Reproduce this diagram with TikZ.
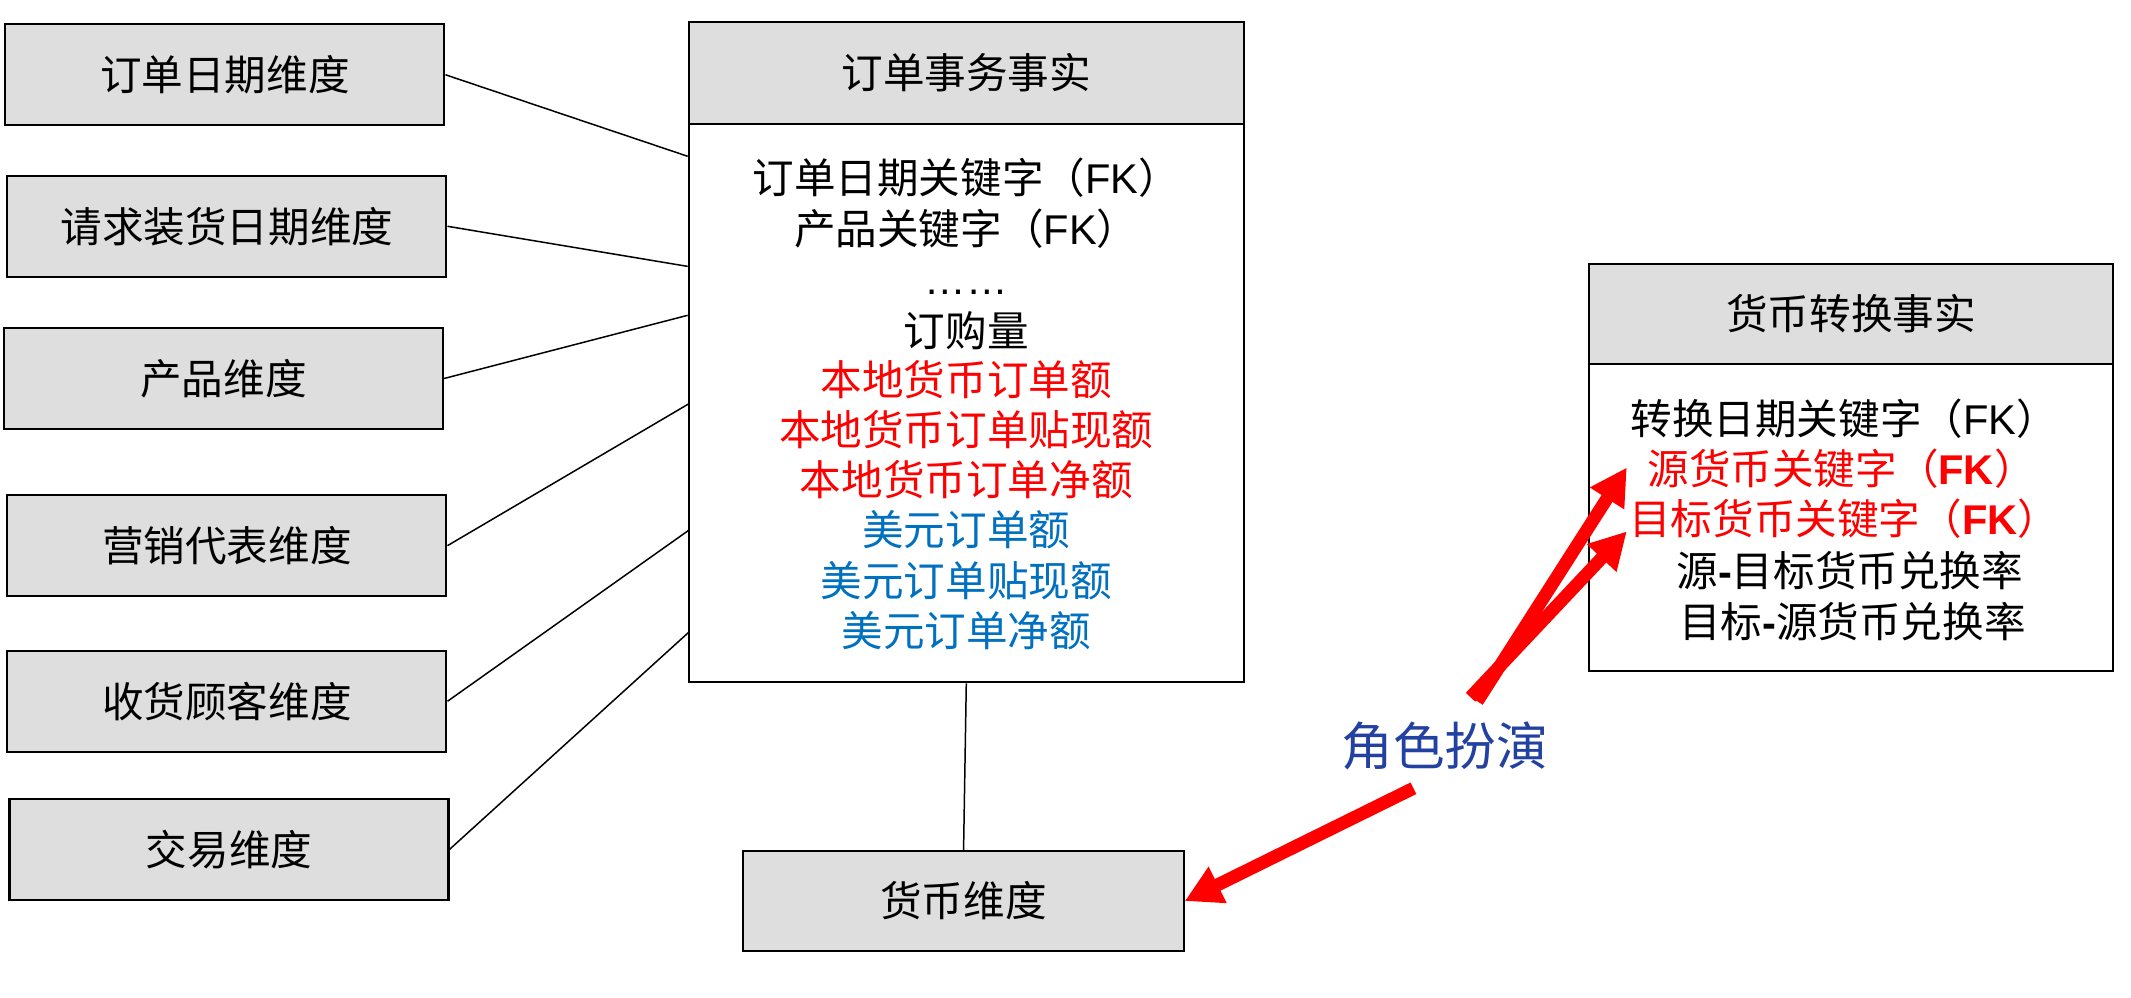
\documentclass[tikz,border=0pt]{standalone}
\usepackage{fontspec}
\setmainfont{Noto Sans CJK SC}
\newfontfamily\arialf{Liberation Sans}
\usetikzlibrary{arrows.meta}
\definecolor{boxgray}{RGB}{222,222,222}
\definecolor{usdblue}{RGB}{0,112,192}
\definecolor{roleblue}{RGB}{35,65,160}
\newcommand\fkx{{\arialf FK}}
\newcommand\fkb{{\arialf\bfseries FK}}
\begin{document}
\begin{tikzpicture}[x=1pt,y=-1pt,
  txt/.style={font=\fontsize{30.6}{36}\selectfont},
  dimbox/.style={draw=black,line width=1.5pt,fill=boxgray,minimum width=323pt,minimum height=74pt,inner sep=0pt,txt},
  hdrbox/.style={draw=black,line width=1.5pt,fill=boxgray,inner sep=0pt,txt},
  bodybox/.style={draw=black,line width=1.5pt,fill=white,inner sep=0pt},
  row/.style={inner sep=0pt,anchor=center,txt},
  link/.style={draw=black,line width=1.1pt},
  roleplay/.style={draw=red,line width=9.5pt,-{Triangle[length=27pt,width=28pt]}}
]
\useasboundingbox (0,0) rectangle (1568,734);

% left dimension boxes
\node[dimbox] (b1) at (165.5,55) {订单日期维度};
\node[dimbox] (b2) at (167,166.5) {请求装货日期维度};
\node[dimbox] (b3) at (164.5,278.5) {产品维度};
\node[dimbox] (b4) at (167,401.5) {营销代表维度};
\node[dimbox] (b5) at (167,516) {收货顾客维度};
\node[dimbox] (b6) at (168.5,625) {交易维度};

% order fact
\node[bodybox,minimum width=408pt,minimum height=411pt] (fb) at (711,296.5) {};
\node[hdrbox,minimum width=408pt,minimum height=75pt] (fh) at (711,53.5) {订单事务事实};
\node[row] (f1) at (711,131) {订单日期关键字（\fkx）};
\node[row] (f2) at (711,168) {产品关键字（\fkx）};
\node[row,anchor=base] (f3) at (711,217) {{\arialf ……}};
\node[row] (f4) at (711,243) {订购量};
\node[row,text=red] (f5) at (711,279) {本地货币订单额};
\node[row,text=red] (f6) at (711,316) {本地货币订单贴现额};
\node[row,text=red] (f7) at (711,353) {本地货币订单净额};
\node[row,text=usdblue] (f8) at (711,390) {美元订单额};
\node[row,text=usdblue] (f9) at (711,427) {美元订单贴现额};
\node[row,text=usdblue] (f10) at (711,464) {美元订单净额};

% currency dimension
\node[dimbox,minimum width=324pt] (cur) at (709,663) {货币维度};

% currency conversion fact
\node[bodybox,minimum width=386pt,minimum height=226pt] (rb) at (1362,381) {};
\node[hdrbox,minimum width=386pt,minimum height=74pt] (rh) at (1362,231) {货币转换事实};
\node[row] (r1) at (1357,308) {转换日期关键字（\fkx）};
\node[row,text=red] (r2) at (1355,345) {源货币关键字（\fkb）};
\node[row,text=red] (r3) at (1357,382) {目标货币关键字（\fkb）};
\node[row] (r4) at (1361,420) {源{\arialf\bfseries -}目标货币兑换率};
\node[row] (r5) at (1363,457) {目标{\arialf\bfseries -}源货币兑换率};

% role-playing label
\node[inner sep=0pt,text=roleblue,font=\fontsize{38}{44}\selectfont] (role) at (1063,549) {角色扮演};

% connector end points on the order fact box
\coordinate (e1) at (506,115);
\coordinate (e2) at (506,196);
\coordinate (e3) at (506,232);
\coordinate (e4) at (507,297);
\coordinate (e5) at (507,390);
\coordinate (e6) at (507,465);

\draw[link] (b1.east) -- (e1);
\draw[link] (b2.east) -- (e2);
\draw[link] (b3.east) -- (e3);
\draw[link] (b4.east) -- (e4);
\draw[link] (b5.east) -- (e5);
\draw[link] (b6.east) -- (e6);
\draw[link] (fb.south) -- (cur.north);

% red arrows
\coordinate (t1) at (1087,516);
\coordinate (t2) at (1082,513);
\coordinate (h1) at (1197,344);
\coordinate (h2) at (1197,391);
\coordinate (t3) at (1040,580);
\draw[roleplay] (t1) -- (h1);
\draw[roleplay] (t2) -- (h2);
\draw[roleplay] (t3) -- (cur.east);
\end{tikzpicture}
\end{document}
